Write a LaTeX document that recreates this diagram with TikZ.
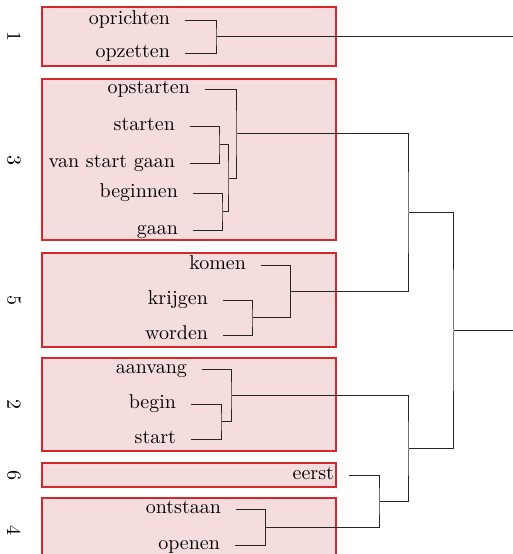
\documentclass[tikz,border=0pt]{standalone}
\definecolor{clusterfill}{RGB}{245,221,222}
\definecolor{clusterdraw}{RGB}{212,40,45}
\tikzset{
    cluster/.style={draw=clusterdraw, fill=clusterfill, line width=0.6pt},
    leaf/.style={anchor=east, inner xsep=7.5pt, inner ysep=0pt, outer sep=0pt,
        text height=6.5pt, text depth=2pt},
    num/.style={rotate=-90, inner sep=0pt},
    link/.style={draw=black!85, line width=0.5pt}
}
\begin{document}
\begin{tikzpicture}[x=0.5pt, y=-0.5pt]
    \useasboundingbox (0,0) rectangle (513,554);
    \clip (0,0) rectangle (513,554);
    % Clusters
    \draw[cluster] (42,7) rectangle (336,66);
    \draw[cluster] (42,79) rectangle (336,240);
    \draw[cluster] (42,253) rectangle (336,347);
    \draw[cluster] (42,358) rectangle (336,451);
    \draw[cluster] (42,463) rectangle (336,487);
    \draw[cluster] (42,498) rectangle (336,562);
    % Cluster numbers
    \node[num] (n1) at (14,36.5) {1};
    \node[num] (n3) at (14,160) {3};
    \node[num] (n5) at (14,300) {5};
    \node[num] (n2) at (14,404.5) {2};
    \node[num] (n6) at (14,475) {6};
    \node[num] (n4) at (14,530) {4};
    % Leaves
    \node[leaf] (oprichten) at (185,20) {oprichten};
    \node[leaf] (opzetten) at (185,53) {opzetten};
    \node[leaf] (opstarten) at (205,89) {opstarten};
    \node[leaf] (starten) at (190,126) {starten};
    \node[leaf] (vanstart) at (190,163) {van start gaan};
    \node[leaf] (beginnen) at (193,193) {beginnen};
    \node[leaf] (gaan) at (193,230) {gaan};
    \node[leaf] (komen) at (261,265) {komen};
    \node[leaf] (krijgen) at (223,300) {krijgen};
    \node[leaf] (worden) at (223,335) {worden};
    \node[leaf] (aanvang) at (202,369) {aanvang};
    \node[leaf] (begin) at (191,404) {begin};
    \node[leaf] (start) at (191,439) {start};
    \node[leaf] (eerst) at (349,475) {eerst};
    \node[leaf] (ontstaan) at (236,509) {ontstaan};
    \node[leaf] (openen) at (235,545) {openen};
    % Merge points
    \coordinate (j1) at (217,36.5);
    \coordinate (out1) at (513,36.5);
    \coordinate (jA) at (220,144.5);
    \coordinate (jB) at (223,211.5);
    \coordinate (jC) at (229,178);
    \coordinate (jD) at (237,133.5);
    \coordinate (jK) at (253,317.5);
    \coordinate (jL) at (290.5,291.25);
    \coordinate (jF) at (409,212.4);
    \coordinate (jG) at (222,421.5);
    \coordinate (jH) at (232,395.25);
    \coordinate (jI) at (265.5,527);
    \coordinate (jJ) at (380,501);
    \coordinate (jM) at (409,448.1);
    \coordinate (jN) at (454,330.3);
    \coordinate (root) at (513,330.3);
    % Dendrogram
    \draw[link] (oprichten.east) -| (j1) |- (opzetten.east);
    \draw[link] (j1) -- (out1);
    \draw[link] (starten.east) -| (jA) |- (vanstart.east);
    \draw[link] (beginnen.east) -| (jB) |- (gaan.east);
    \draw[link] (jA) -| (jC) |- (jB);
    \draw[link] (opstarten.east) -| (jD) |- (jC);
    \draw[link] (krijgen.east) -| (jK) |- (worden.east);
    \draw[link] (komen.east) -| (jL) |- (jK);
    \draw[link] (jD) -| (jF) |- (jL);
    \draw[link] (begin.east) -| (jG) |- (start.east);
    \draw[link] (aanvang.east) -| (jH) |- (jG);
    \draw[link] (ontstaan.east) -| (jI) |- (openen.east);
    \draw[link] (eerst.east) -| (jJ) |- (jI);
    \draw[link] (jH) -| (jM) |- (jJ);
    \draw[link] (jF) -| (jN) |- (jM);
    \draw[link] (jN) -- (root);
\end{tikzpicture}
\end{document}
